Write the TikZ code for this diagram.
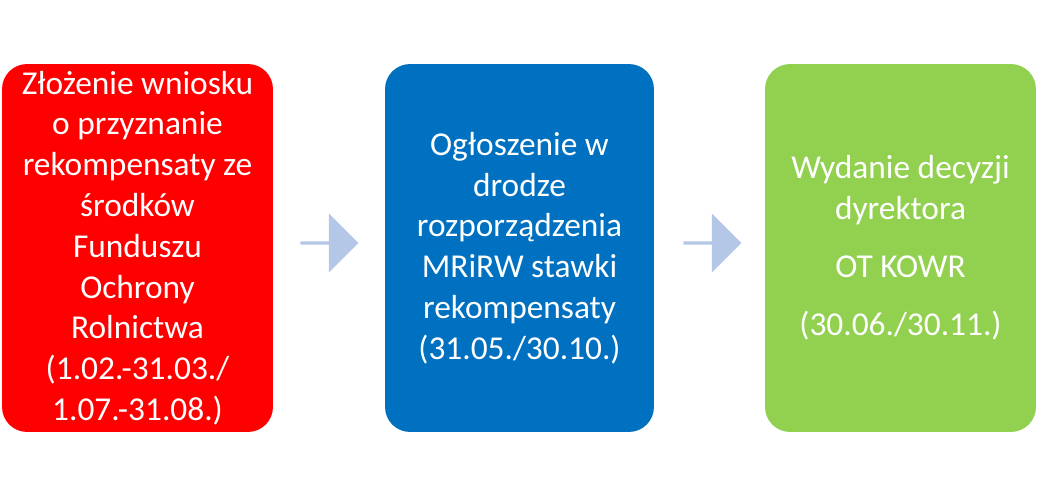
\documentclass[tikz,border=0pt]{standalone}
\usepackage{fontspec}
\setmainfont{Carlito}
\usetikzlibrary{shapes.arrows}
\definecolor{boxred}{HTML}{FF0000}
\definecolor{boxblue}{HTML}{0070C0}
\definecolor{boxgreen}{HTML}{92D050}
\definecolor{arrowblue}{HTML}{B4C7E7}
\begin{document}
\begin{tikzpicture}[x=0.02cm,y=-0.02cm]
    \tikzset{
        stage/.style={rounded corners=0.5cm, minimum width=5.42cm, minimum height=7.36cm,
            align=center, text=white, font=\fontsize{19}{23.2}\selectfont},
        flow/.style={single arrow, fill=arrowblue, minimum height=1.16cm,
            minimum width=1.18cm, single arrow head extend=0.12cm, inner sep=0pt,
            single arrow head indent=0pt}
    }
    \useasboundingbox (0,0) rectangle (1039,497);
    \node[stage, fill=boxred] (wniosek) at (137.5, 248) {Złożenie wniosku\\ o przyznanie\\ rekompensaty ze\\ środków\\ Funduszu\\ Ochrony\\ Rolnictwa\\ (1.02.-31.03./\\ 1.07.-31.08.)};
    \node[stage, fill=boxblue, minimum width=5.38cm] (ogloszenie) at (519.5, 248) {Ogłoszenie w\\ drodze\\ rozporządzenia\\ MRiRW stawki\\ rekompensaty\\ (31.05./30.10.)};
    \node[stage, fill=boxgreen] (decyzja) at (900.5, 248) {Wydanie decyzji\\ dyrektora\\[0.35cm] OT KOWR\\[0.35cm] (30.06./30.11.)};
    \node[flow, anchor=west] (strzalka1) at (300, 243) {};
    \node[flow, anchor=west] (strzalka2) at (683, 243) {};
\end{tikzpicture}
\end{document}
